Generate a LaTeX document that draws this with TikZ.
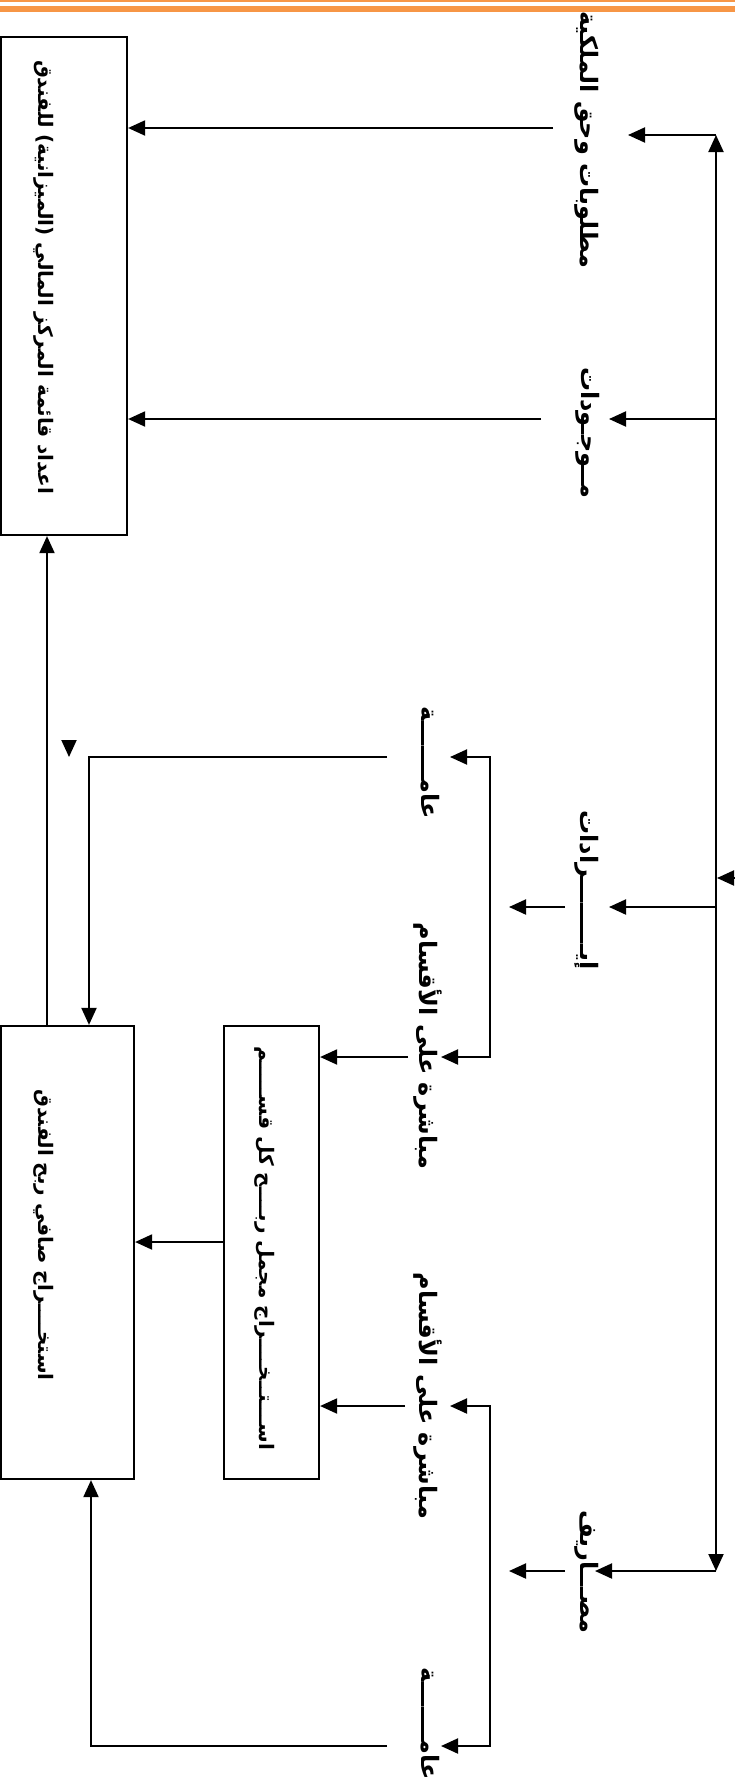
\documentclass[tikz,border=0pt]{standalone}
\usepackage{fontspec}
\usetikzlibrary{arrows.meta}
\newfontfamily\arabicfont[Script=Arabic]{DejaVu Sans}
\TeXXeTstate=1
\definecolor{hdrorange}{HTML}{F79646}
\begin{document}
\begin{tikzpicture}[x=1pt,y=-1pt,
  line width=2pt,
  tip/.tip={Triangle[length=17pt,width=15pt]},
  arr/.style={-tip},
  dblarr/.style={tip-tip},
  box/.style={draw, line width=2.2pt, inner sep=0pt},
  lbl/.style={rotate=-90, inner sep=0pt, font=\arabicfont\bfseries\fontsize{24}{26}\selectfont},
  boxtxt/.style={rotate=-90, inner sep=0pt, font=\arabicfont\bfseries\fontsize{20}{22}\selectfont},
]
\useasboundingbox (0,0) rectangle (735,1786);
\fill[white] (0,0) rectangle (735,1786);
\fill[hdrorange] (0,0) rectangle (735,2);
\fill[hdrorange] (0,6) rectangle (735,12);

% boxes
\node[box, minimum width=126pt, minimum height=498pt] (b1) at (64,286) {};
\node[box, minimum width=95pt, minimum height=453pt] (b2) at (271.5,1252.5) {};
\node[box, minimum width=133pt, minimum height=453pt] (b3) at (67.5,1252.5) {};

\node[boxtxt] (t1) at (44,277) {\beginR اعداد قائمة المركز المالي (الميزانية) للفندق\endR};
\node[boxtxt] (t2) at (265,1248) {\beginR اســـتــخــــراج مجمل ربــــح كل قســـــم\endR};
\node[boxtxt] (t3) at (44,1235) {\beginR استخــــراج صافي ربح الفندق\endR};

% labels
\node[lbl] (l1) at (587,140) {\beginR مطلوبات وحق الملكية\endR};
\node[lbl] (l2) at (588,433) {\beginR مــوجـودات\endR};
\node[lbl] (l3) at (587,890) {\beginR إيـــــــــرادات\endR};
\node[lbl] (l4) at (587,1572) {\beginR مصـــاريف\endR};
\node[lbl] (l5) at (430,763) {\beginR عامـــــــة\endR};
\node[lbl] (l6) at (428,1046) {\beginR مباشرة على الأقسام\endR};
\node[lbl] (l7) at (428,1396) {\beginR مباشرة على الأقسام\endR};
\node[lbl] (l8) at (430,1724) {\beginR عامـــــــة\endR};

% right spine
\coordinate (sT) at (716,135);
\coordinate (sB) at (716,1571);
\draw[dblarr] (sT) -- (sB);
\coordinate (a1) at (628,135);
\draw[arr] (sT) -- (a1);
\coordinate (s2) at (716,419);
\coordinate (a2) at (609,419);
\draw[arr] (s2) -- (a2);
\coordinate (s3) at (716,907);
\coordinate (a3) at (609,907);
\draw[arr] (s3) -- (a3);
\coordinate (a4) at (595,1571);
\draw[arr] (sB) -- (a4);
\coordinate (e1) at (735,878);
\coordinate (e2) at (717,878);
\draw[arr] (e1) -- (e2);

% short arrows left of revenue / expense labels
\coordinate (r1) at (565,907);
\coordinate (r2) at (509,907);
\draw[arr] (r1) -- (r2);
\coordinate (p1) at (565,1571);
\coordinate (p2) at (509,1571);
\draw[arr] (p1) -- (p2);

% brackets
\coordinate (k1) at (490,757);
\coordinate (k2) at (490,1057);
\coordinate (k1t) at (450,757);
\coordinate (k2t) at (441,1057);
\draw[dblarr] (k1t) -- (k1) -- (k2) -- (k2t);
\coordinate (q1) at (490,1406);
\coordinate (q2) at (490,1746);
\coordinate (q1t) at (450,1406);
\coordinate (q2t) at (441,1746);
\draw[dblarr] (q1t) -- (q1) -- (q2) -- (q2t);

% labels to boxes
\coordinate (c1) at (553,128);
\draw[arr] (c1) -- (c1 -| b1.east);
\coordinate (c2) at (541,419);
\draw[arr] (c2) -- (c2 -| b1.east);
\coordinate (g1) at (387,757);
\coordinate (g2) at (89,757);
\draw[arr] (g1) -- (g2) -- (g2 |- b3.north);
\coordinate (h1) at (408,1057);
\draw[arr] (h1) -- (h1 -| b2.east);
\coordinate (h2) at (405,1406);
\draw[arr] (h2) -- (h2 -| b2.east);
\coordinate (n1) at (387,1746);
\coordinate (n2) at (91,1746);
\draw[arr] (n1) -- (n2) -- (n2 |- b3.south);
\coordinate (m1) at (0,1242);
\draw[arr] (b2.west |- m1) -- (b3.east |- m1);
\coordinate (v) at (47,0);
\draw[arr] (b3.north -| v) -- (b1.south -| v);
\coordinate (f1) at (69,740);
\coordinate (f2) at (69,757);
\draw[arr] (f1) -- (f2);
\end{tikzpicture}
\end{document}
